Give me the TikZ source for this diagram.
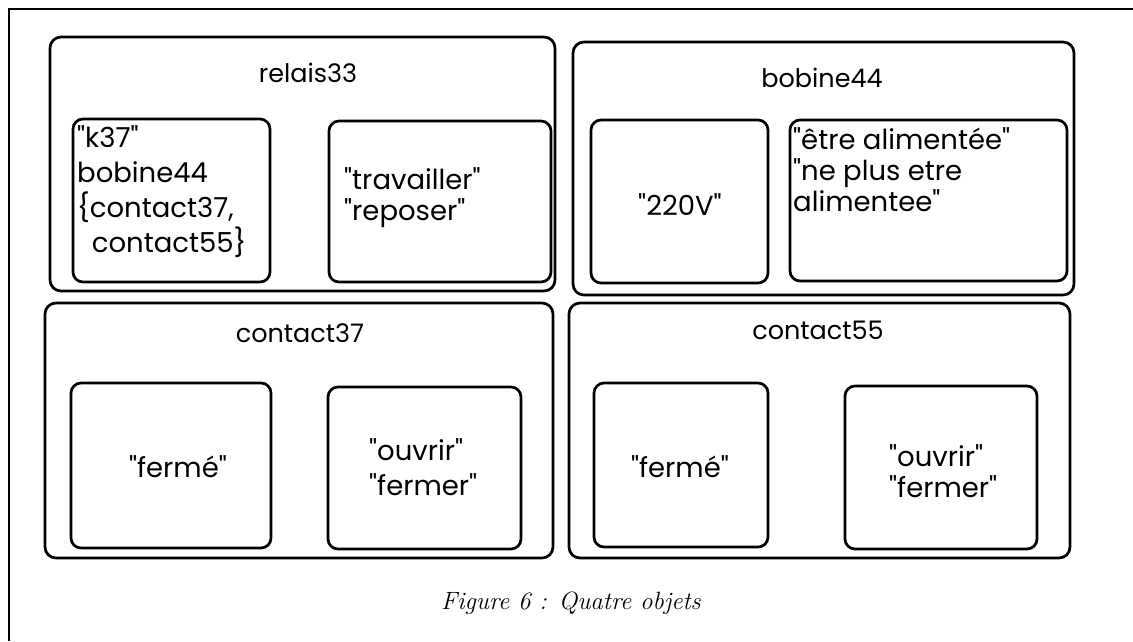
\documentclass[tikz,border=0pt]{standalone}
\usepackage{fontspec}
\setmainfont{Poppins}
\newfontfamily\capfont{Latin Modern Roman}
\newcommand\dq{\textquotedbl}
\begin{document}
\begin{tikzpicture}[x=1pt,y=-1pt,
  frame/.style={line width=2pt},
  obox/.style={draw, line width=2.7pt, rounded corners=11pt, inner sep=0pt},
  ibox/.style={draw, line width=2.7pt, rounded corners=10pt, inner sep=0pt},
  ttl/.style={font=\fontsize{25.5}{30}\selectfont, inner sep=0pt},
  txt/.style={font=\fontsize{27.5}{35}\selectfont, inner sep=0pt, align=left},
  txtb/.style={font=\fontsize{27.5}{31}\selectfont, inner sep=0pt, align=left},
]
\useasboundingbox (0,0) rectangle (1133,641);
\draw[frame] (1133,9) -- (9,9) -- (9,641);

% relais33
\node[obox, minimum width=505pt, minimum height=254pt] (relais) at (302.5,164) {};
\node[ttl] (relaisT) at (308,73) {relais33};
\node[ibox, minimum width=197pt, minimum height=163pt] (k37box) at (171.5,200.5) {};
\node[txt, anchor=north west] (k37txt) at (77,125) {\dq k37\dq\\bobine44\\\{contact37,\\\ \ contact55\}};
\node[ibox, minimum width=222pt, minimum height=161pt] (travbox) at (440,201.5) {};
\node[txtb, anchor=west] (travtxt) at (344,198) {\dq travailler\dq\\\dq reposer\dq};

% bobine44
\node[obox, minimum width=501pt, minimum height=253pt] (bobine) at (823.5,168.5) {};
\node[ttl] (bobineT) at (822,78) {bobine44};
\node[ibox, minimum width=177pt, minimum height=163pt] (vbox) at (679.5,201.5) {};
\node[txt] (vtxt) at (680,205) {\dq 220V\dq};
\node[ibox, minimum width=277pt, minimum height=161pt] (alimbox) at (928.5,200.5) {};
\node[txtb, anchor=north west] (alimtxt) at (793,127) {\dq être alimentée\dq\\\dq ne plus etre\\alimentee\dq};

% contact37
\node[obox, minimum width=508pt, minimum height=255pt] (c37) at (299,430.5) {};
\node[ttl] (c37T) at (300,333) {contact37};
\node[ibox, minimum width=200pt, minimum height=165pt] (c37a) at (171,465.5) {};
\node[txt] (c37atxt) at (178,467) {\dq fermé\dq};
\node[ibox, minimum width=193pt, minimum height=162pt] (c37b) at (424.5,468) {};
\node[txt, anchor=west] (c37btxt) at (369,467) {\dq ouvrir\dq\\\dq fermer\dq};

% contact55
\node[obox, minimum width=501pt, minimum height=255pt] (c55) at (819.5,430.5) {};
\node[ttl] (c55T) at (818,330) {contact55};
\node[ibox, minimum width=174pt, minimum height=164pt] (c55a) at (681,465) {};
\node[txt] (c55atxt) at (680,467) {\dq fermé\dq};
\node[ibox, minimum width=192pt, minimum height=163pt] (c55b) at (941,467.5) {};
\node[txtb, anchor=west] (c55btxt) at (889,471) {\dq ouvrir\dq\\\dq fermer\dq};

\node[font=\capfont\itshape\fontsize{25}{28}\selectfont, inner sep=0pt] (cap) at (571,603) {Figure 6 : Quatre objets};
\end{tikzpicture}
\end{document}
